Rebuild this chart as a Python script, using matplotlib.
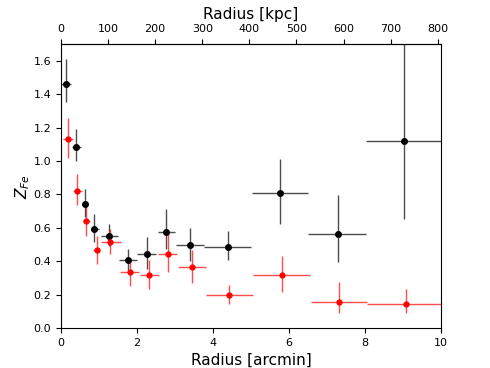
import numpy as np
import matplotlib
matplotlib.use('Agg')
from matplotlib import pyplot as plt

# black profile
r_blk = [0.13, 0.39, 0.63, 0.87, 1.26, 1.76, 2.27, 2.75, 3.39, 4.39, 5.76, 7.28, 9.02]
r_blk_lo = [0.0, 0.29, 0.55, 0.78, 1.04, 1.52, 2.01, 2.55, 3.03, 3.76, 5.03, 6.50, 8.03]
r_blk_hi = [0.26, 0.52, 0.70, 1.01, 1.50, 2.01, 2.50, 3.00, 3.76, 5.00, 6.51, 8.03, 10.0]
z_blk = [1.46, 1.085, 0.745, 0.59, 0.55, 0.405, 0.44, 0.575, 0.495, 0.485, 0.81, 0.56, 1.12]
z_blk_lo = [1.35, 1.00, 0.667, 0.513, 0.49, 0.35, 0.355, 0.47, 0.40, 0.41, 0.62, 0.395, 0.655]
z_blk_hi = [1.61, 1.19, 0.835, 0.68, 0.62, 0.475, 0.543, 0.71, 0.60, 0.58, 1.01, 0.795, 1.75]

# red profile
r_red = [0.18, 0.43, 0.67, 0.94, 1.30, 1.81, 2.32, 2.82, 3.45, 4.43, 5.82, 7.32, 9.07]
r_red_lo = [0.06, 0.32, 0.57, 0.85, 1.06, 1.55, 2.08, 2.55, 3.08, 3.82, 5.06, 6.58, 8.06]
r_red_hi = [0.31, 0.55, 0.76, 1.03, 1.57, 2.06, 2.57, 3.06, 3.82, 5.04, 6.55, 8.06, 10.0]
z_red = [1.13, 0.82, 0.64, 0.465, 0.515, 0.335, 0.315, 0.445, 0.365, 0.195, 0.315, 0.155, 0.145]
z_red_lo = [1.02, 0.738, 0.553, 0.385, 0.445, 0.253, 0.233, 0.337, 0.272, 0.146, 0.213, 0.088, 0.088]
z_red_hi = [1.259, 0.92, 0.734, 0.553, 0.59, 0.409, 0.409, 0.565, 0.469, 0.26, 0.429, 0.275, 0.235]

kpc_per_arcmin = 80.7


def errs(v, lo, hi):
    v = np.array(v)
    return [v - np.array(lo), np.array(hi) - v]


fig = plt.figure(figsize=(4.9, 3.68), dpi=100)
ax = fig.add_axes([0.1245, 0.1087, 0.7755, 0.7717])

ax.errorbar(r_blk, z_blk, xerr=errs(r_blk, r_blk_lo, r_blk_hi),
            yerr=errs(z_blk, z_blk_lo, z_blk_hi), fmt='o', color='k',
            ms=4, ecolor=(0, 0, 0, 0.7), elinewidth=1.0)
ax.errorbar(r_red, z_red, xerr=errs(r_red, r_red_lo, r_red_hi),
            yerr=errs(z_red, z_red_lo, z_red_hi), fmt='o', color='r',
            ms=3.5, ecolor=(1, 0, 0, 0.7), elinewidth=1.0)

ax.set_xlim(0, 10)
ax.set_ylim(0, 1.7)
ax.set_xticks(np.arange(0, 11, 2))
ax.set_yticks(np.arange(0, 1.61, 0.2))
ax.tick_params(labelsize=8)
ax.set_xlabel('Radius [arcmin]', fontsize=11)
ax.set_ylabel(r'$Z_{Fe}$', fontsize=11, labelpad=1)

top = ax.secondary_xaxis('top', functions=(lambda x: x * kpc_per_arcmin,
                                           lambda x: x / kpc_per_arcmin))
top.set_xticks(np.arange(0, 801, 100))
top.tick_params(labelsize=8)
top.set_xlabel('Radius [kpc]', fontsize=11)

fig.savefig('out.png', dpi=100)
